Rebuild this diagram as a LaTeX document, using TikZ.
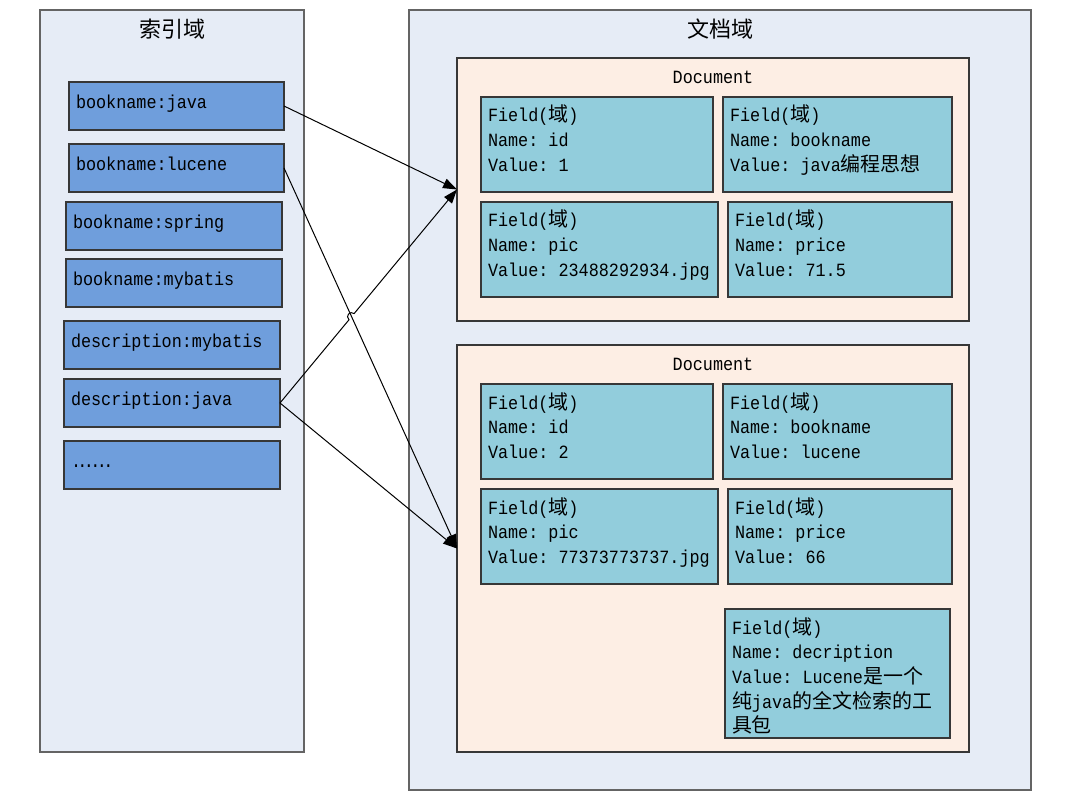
\documentclass[tikz,border=0pt]{standalone}
\usepackage{fontspec}
\setmonofont[FakeStretch=0.9]{Liberation Mono}
\newfontfamily\cjkfont[Scale=1.07]{Noto Sans CJK SC}
\newfontfamily\titlefont{Noto Sans CJK SC}
\newcommand\zhtext[1]{{\cjkfont #1}}
\newcommand\dotsix{.\kern-2.7pt.\kern-2.7pt.\kern-2.7pt.\kern-2.7pt.\kern-2.7pt.}
\usetikzlibrary{arrows.meta,fit,calc,intersections}
\definecolor{panelfill}{RGB}{230,236,246}
\definecolor{panelline}{RGB}{100,100,100}
\definecolor{docfill}{RGB}{253,238,228}
\definecolor{fieldfill}{RGB}{146,205,220}
\definecolor{keyfill}{RGB}{111,158,220}
\definecolor{boxline}{RGB}{55,55,55}
\begin{document}
\begin{tikzpicture}[x=0.75pt,y=-0.75pt,
  every node/.style={inner sep=0pt,outer sep=0pt},
  panel/.style={draw=panelline,line width=0.9pt,fill=panelfill},
  docbox/.style={draw=boxline,line width=0.8pt,fill=docfill},
  fieldbox/.style={draw=boxline,line width=0.9pt,fill=fieldfill},
  keybox/.style={draw=boxline,line width=0.9pt,fill=keyfill},
  monotext/.style={font={\ttfamily\fontsize{14}{18.5}\selectfont},text=black},
  fieldtext/.style={monotext,align=left,anchor=north west},
  keytext/.style={monotext,anchor=base west},
  titletext/.style={font={\titlefont\fontsize{16.5}{20}\selectfont},anchor=base},
  conn/.style={draw=black,line width=0.75pt,-{Triangle[length=10.5pt,width=7.5pt]}}
]
\useasboundingbox (0,0) rectangle (1075,810);
\fill[white] (0,0) rectangle (1075,810);

% panels
\node[panel,fit={(40,10) (304,752)}] (leftpanel) {};
\node[titletext] (lefttitle) at (172,37.5) {索引域};
\node[panel,fit={(409,10) (1031,790)}] (rightpanel) {};
\node[titletext] (righttitle) at (720,37.5) {文档域};

% documents
\node[docbox,fit={(457,58) (969,321)}] (doc1) {};
\node[monotext,anchor=base] (doc1t) at (713,83) {Document};
\node[docbox,fit={(457,345) (969,752)}] (doc2) {};
\node[monotext,anchor=base] (doc2t) at (713,370) {Document};

\newcommand\fld[4]{%
  \node[fieldbox,fit={#2 #3}] (#1) {};
  \node[fieldtext] (#1t) at ([shift={(7,6.33)}]#1.north west) {\rule{0pt}{14pt}#4};
}
\fld{d1f1}{(481,97)}{(713,192)}{Field(\zhtext{域})\\Name: id\\Value: 1}
\fld{d1f2}{(723,97)}{(952,192)}{Field(\zhtext{域})\\Name: bookname\\Value: java\zhtext{编程思想}}
\fld{d1f3}{(481,202)}{(718,297)}{Field(\zhtext{域})\\Name: pic\\Value: 23488292934.jpg}
\fld{d1f4}{(728,202)}{(952,297)}{Field(\zhtext{域})\\Name: price\\Value: 71.5}
\fld{d2f1}{(481,384)}{(713,479)}{Field(\zhtext{域})\\Name: id\\Value: 2}
\fld{d2f2}{(723,384)}{(952,479)}{Field(\zhtext{域})\\Name: bookname\\Value: lucene}
\fld{d2f3}{(481,489)}{(718,584)}{Field(\zhtext{域})\\Name: pic\\Value: 77373773737.jpg}
\fld{d2f4}{(728,489)}{(952,584)}{Field(\zhtext{域})\\Name: price\\Value: 66}
\fld{d2f5}{(725,609)}{(950,738)}{Field(\zhtext{域})\\Name: decription\\Value: Lucene\zhtext{是一个}\\\zhtext{纯}java\zhtext{的全文检索的工}\\\zhtext{具包}}

% index keys
\newcommand\key[4]{%
  \node[keybox,fit={#2 #3}] (#1) {};
  \node[keytext] (#1t) at ([shift={(7,26)}]#1.north west) {#4};
}
\key{bj}{(69,82)}{(284,130)}{bookname:java}
\key{bl}{(69,144)}{(284,192)}{bookname:lucene}
\key{bs}{(66,202)}{(282,250)}{bookname:spring}
\key{bm}{(66,259)}{(282,307)}{bookname:mybatis}
\key{dm}{(64,321)}{(280,369)}{description:mybatis}
\key{dj}{(64,379)}{(280,427)}{description:java}
\key{dd}{(64,441)}{(280,489)}{\dotsix}

% connectors
\draw[conn] (bj.east) -- (doc1.west);
\draw[conn] (bl.east) -- (doc2.west);
\draw[conn] (dj.east) -- (doc2.west);
\path[name path=pA] (bl.east) -- (doc2.west);
\path[name path=pB] (dj.east) -- (doc1.west);
\path[name intersections={of=pA and pB,by=hopc}];
\coordinate (h1) at ($(hopc)!3pt!(dj.east)$);
\coordinate (h2) at ($(hopc)!3pt!(doc1.west)$);
\draw[conn] (dj.east) -- (h1) .. controls ($(h1)!4pt!90:(hopc)$) and ($(h2)!4pt!-90:(hopc)$) .. (h2) -- (doc1.west);
\end{tikzpicture}
\end{document}
